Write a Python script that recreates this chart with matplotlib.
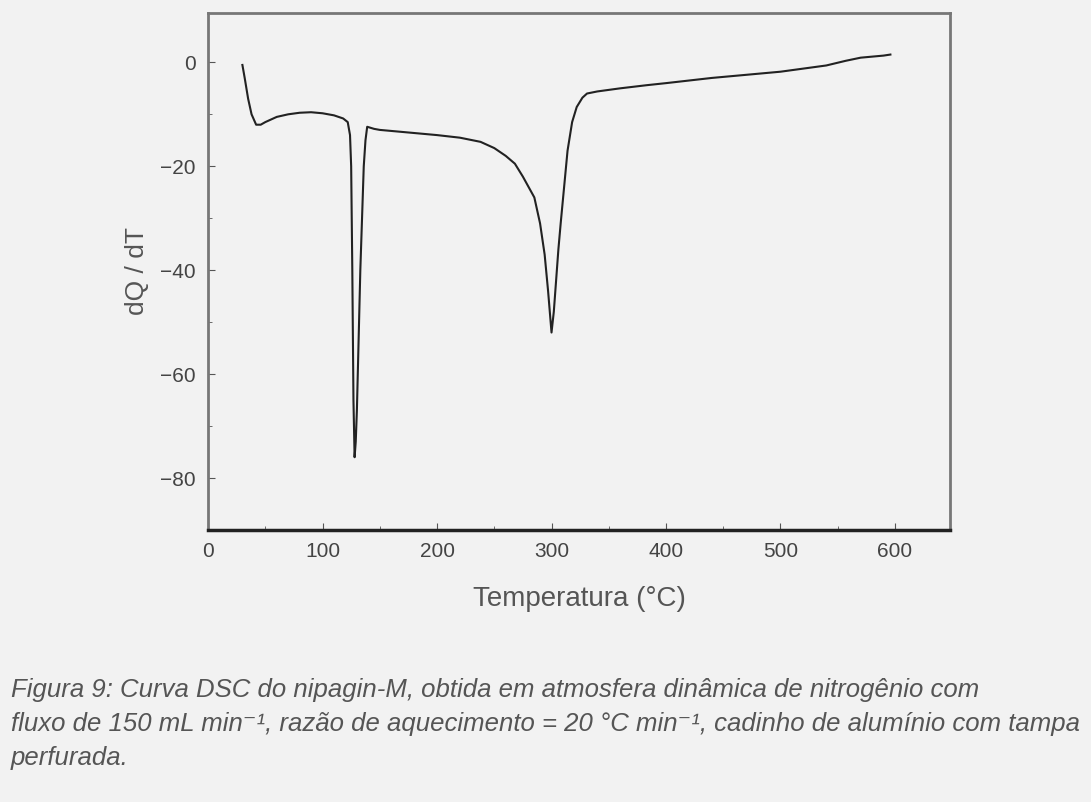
import numpy as np
import matplotlib
matplotlib.use('Agg')
import matplotlib.pyplot as plt
from matplotlib.ticker import MultipleLocator

plt.rcParams['font.family'] = ['Liberation Sans', 'DejaVu Sans']

# DSC curve
temperature = [30, 32, 35, 38, 42, 46, 50, 60, 70, 80, 90, 100, 110, 118, 122,
               124, 125, 126, 127, 128, 129, 130, 131, 132, 133, 134.5, 136,
               137.5, 139, 145, 150, 175, 200, 220, 238, 250, 260, 268, 275,
               280, 285, 290, 294, 297, 300, 302, 304, 306, 308, 311, 314, 318,
               322, 327, 331, 340, 360, 383, 400, 420, 440, 470, 500, 520, 540,
               557, 570, 580, 590, 596]
dq_dt = [-0.5, -3, -7, -10, -12, -12, -11.5, -10.5, -10, -9.7, -9.6, -9.8,
         -10.2, -10.8, -11.5, -14, -20, -40, -65, -76, -73, -67, -58, -49,
         -40, -30, -20, -15, -12.4, -12.8, -13, -13.5, -14, -14.5, -15.3,
         -16.5, -18, -19.5, -22, -24, -26, -31, -37, -44, -52, -48, -42, -36,
         -31, -24, -17, -11.5, -8.6, -6.8, -6, -5.6, -5, -4.4, -4, -3.5, -3,
         -2.4, -1.8, -1.2, -0.6, 0.3, 0.9, 1.1, 1.3, 1.5]

x_ticks = [0, 100, 200, 300, 400, 500, 600]
y_ticks = [0, -20, -40, -60, -80]

caption_lines = [
    "Figura 9: Curva DSC do nipagin-M, obtida em atmosfera dinâmica de nitrogênio com",
    "fluxo de 150 mL min⁻¹, razão de aquecimento = 20 °C min⁻¹, cadinho de alumínio com tampa",
    "perfurada.",
]

bg = '#f2f2f2'
fig = plt.figure(figsize=(10.91, 8.02), dpi=100, facecolor=bg)
ax = fig.add_axes([0.1907, 0.3392, 0.680, 0.6446], facecolor=bg)

ax.plot(temperature, dq_dt, color='#222222', lw=1.5)

ax.set_xlim(0, 648)
ax.set_ylim(-90, 9.5)
ax.set_xticks(x_ticks)
ax.set_yticks(y_ticks)
ax.xaxis.set_minor_locator(MultipleLocator(50))
ax.yaxis.set_minor_locator(MultipleLocator(10))
ax.tick_params(which='both', direction='in', colors='#555555', labelcolor='#444444',
               labelsize=15)
ax.tick_params(which='major', length=5)
ax.tick_params(which='minor', length=3)
ax.tick_params(axis='x', pad=9)
ax.tick_params(axis='y', pad=9)

for side in ['left', 'right', 'top']:
    ax.spines[side].set_color('#777777')
    ax.spines[side].set_linewidth(2)
ax.spines['bottom'].set_color('#222222')
ax.spines['bottom'].set_linewidth(2.5)

ax.set_xlabel('Temperatura (°C)', fontsize=20, color='#555555', labelpad=18)
ax.set_ylabel('dQ / dT', fontsize=19, color='#555555', labelpad=8)

for i, line in enumerate(caption_lines):
    fig.text(0.010, 0.140 - i * 0.0425, line, fontsize=18.5, style='italic',
             color='#555555', ha='left', va='center')

fig.savefig('out.png', dpi=100, facecolor=bg)
